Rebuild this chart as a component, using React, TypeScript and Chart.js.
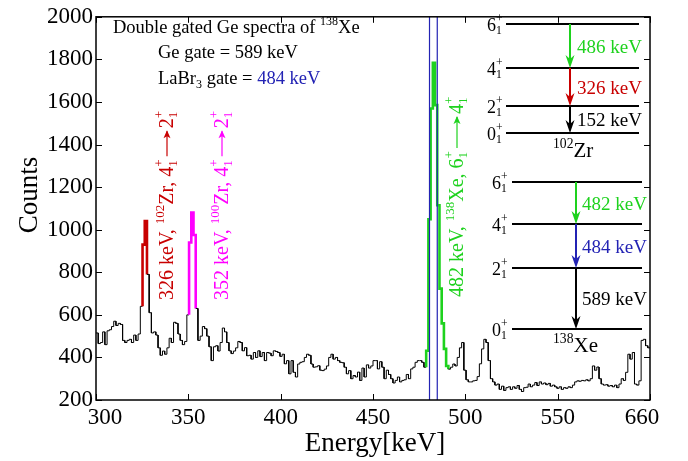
import React, { useEffect, useRef } from 'react';
import { Chart, registerables } from 'chart.js';
Chart.register(...registerables);

// ---------------- data ----------------
const binStart = 300; // keV
const binWidth = 1.2; // keV
const counts = [
  515, 465, 470, 520, 460, 525, 530, 545, 570, 550, 560, 555, 480, 470, 480, 485, 470, 505, 480, 510,
  640, 930, 1040, 790, 610,
  515, 520, 505, 445, 410, 430, 415, 445, 490, 470, 565, 560, 510, 480, 460, 475, 600,
  940, 1080, 975,
  630, 480, 500, 545, 535, 500,
  450, 385, 450, 455, 430, 470, 538, 520, 470, 431, 418, 430, 445, 475, 470, 431, 446, 408, 410, 392,
  423, 400, 431, 404, 423, 385, 423, 420, 408, 431, 428, 423, 405, 415, 370, 385, 323, 385, 330, 308,
  369, 377, 380, 400, 415, 410, 369, 354, 356, 361, 340, 338, 345, 360, 400, 415, 392, 400, 385,
  377, 375, 354, 323, 338, 300, 315, 308, 331, 292, 350, 308, 365, 350, 360, 385, 385, 346, 380, 354,
  300, 340, 320, 300, 280, 292, 308, 285, 292, 295, 320, 300, 346, 354, 377, 385, 385, 377, 354,
  431, 1049, 1569, 1784, 1585, 1115, 723, 560, 440, 360,
  345, 354, 369, 360, 400, 445, 470,
  340, 295, 285, 285, 290, 292, 310, 370, 440, 485, 470, 385, 300, 285,
  270, 275, 250, 265, 245, 258, 262, 250, 262, 255, 268, 250, 240, 258, 260, 275, 262, 270, 282, 268,
  285, 275, 280, 272, 278, 265, 270, 262, 255, 262, 250, 258,
  255, 262, 258, 270, 285, 290, 288, 292, 290, 295, 290, 300, 360, 340, 355, 300, 275, 270, 272, 265,
  268, 262, 270, 258, 275, 300, 292, 330, 415, 392, 423, 275, 270, 290, 480, 485, 455, 445,
];
const xTickValues = [300, 350, 400, 450, 500, 550, 600];
const xTickLabels = ['300', '350', '400', '450', '500', '550', '660'];
const yTickValues = [200, 400, 600, 800, 1000, 1200, 1400, 1600, 1800, 2000];
const peakLo = [325.2, 350.4, 478.8];
const peakHi = [327.6, 354.0, 490.8];
const gateLines = [480.6, 484.8];

// ---------------- styles ----------------
const SERIF = '"Liberation Serif", "Times New Roman", Times, serif';
const RED = '#c80000';
const MAGENTA = '#ff00ff';
const GREEN = '#1ed21e';
const BLUE = '#2323b4';
const peakColors = [RED, MAGENTA, GREEN];

Chart.defaults.font.family = SERIF;

function binColor(k: number): string | null {
  if (k < 0 || k >= counts.length) return null;
  const c = binStart + binWidth * (k + 0.5);
  for (let i = 0; i < peakLo.length; i++) {
    if (c > peakLo[i] && c < peakHi[i]) return peakColors[i];
  }
  return null;
}
function segColor(i: number): string | null {
  if (i % 2 === 0) return binColor(i / 2);
  const k = (i - 1) / 2;
  return binColor(k) || binColor(k + 1);
}

type Run = { t?: string; k?: 'sup' | 'sub' | 'supsub' | 'arrow'; t2?: string; len?: number; color?: string };

function font(size: number) {
  return `${size}px ${SERIF}`;
}

function drawRich(ctx: CanvasRenderingContext2D, runs: Run[], x: number, y: number, size: number, color: string, rotate: boolean) {
  ctx.save();
  ctx.translate(x, y);
  if (rotate) ctx.rotate(-Math.PI / 2);
  ctx.textAlign = 'left';
  ctx.textBaseline = 'alphabetic';
  let cx = 0;
  const small = size * 0.65;
  for (const r of runs) {
    const col = r.color || color;
    ctx.fillStyle = col;
    ctx.strokeStyle = col;
    if (r.k === 'sup') {
      ctx.font = font(small);
      ctx.fillText(r.t!, cx, -size * 0.45);
      cx += ctx.measureText(r.t!).width;
    } else if (r.k === 'sub') {
      ctx.font = font(small);
      ctx.fillText(r.t!, cx, size * 0.2);
      cx += ctx.measureText(r.t!).width;
    } else if (r.k === 'supsub') {
      ctx.font = font(small);
      ctx.fillText(r.t!, cx, -size * 0.5);
      ctx.fillText(r.t2!, cx, size * 0.22);
      cx += Math.max(ctx.measureText(r.t!).width, ctx.measureText(r.t2!).width) + 1;
    } else if (r.k === 'arrow') {
      const len = r.len || 30;
      const ay = -size * 0.3;
      ctx.lineWidth = 1.2;
      ctx.beginPath();
      ctx.moveTo(cx + 2, ay);
      ctx.lineTo(cx + len - 3, ay);
      ctx.stroke();
      ctx.beginPath();
      ctx.moveTo(cx + len - 2, ay);
      ctx.lineTo(cx + len - 10, ay - 3.5);
      ctx.lineTo(cx + len - 8, ay);
      ctx.lineTo(cx + len - 10, ay + 3.5);
      ctx.closePath();
      ctx.fill();
      cx += len;
    } else {
      ctx.font = font(size);
      ctx.fillText(r.t!, cx, 0);
      cx += ctx.measureText(r.t!).width;
    }
  }
  ctx.restore();
}

function arrowDown(ctx: CanvasRenderingContext2D, x: number, y1: number, y2: number, color: string) {
  ctx.save();
  ctx.strokeStyle = color;
  ctx.fillStyle = color;
  ctx.lineWidth = 2;
  ctx.beginPath();
  ctx.moveTo(x, y1);
  ctx.lineTo(x, y2 - 8);
  ctx.stroke();
  ctx.beginPath();
  ctx.moveTo(x, y2);
  ctx.lineTo(x - 4.5, y2 - 13);
  ctx.lineTo(x, y2 - 9);
  ctx.lineTo(x + 4.5, y2 - 13);
  ctx.closePath();
  ctx.fill();
  ctx.restore();
}

type Scheme = {
  levels: number[];
  spins: string[];
  x1: number;
  x2: number;
  labelX: number;
  arrowX: number;
  textX: number;
  trans: { e: string; color: string }[];
  nucA: string;
  nucEl: string;
  nucX: number;
  nucY: number;
};

const schemes: Scheme[] = [
  {
    levels: [24, 68, 106, 133],
    spins: ['6', '4', '2', '0'],
    x1: 506, x2: 639, labelX: 487, arrowX: 570, textX: 577,
    trans: [
      { e: '486 keV', color: GREEN },
      { e: '326 keV', color: RED },
      { e: '152 keV', color: '#000' },
    ],
    nucA: '102', nucEl: 'Zr', nucX: 553, nucY: 157,
  },
  {
    levels: [182, 224, 268, 329],
    spins: ['6', '4', '2', '0'],
    x1: 512, x2: 642, labelX: 492, arrowX: 576, textX: 582,
    trans: [
      { e: '482 keV', color: GREEN },
      { e: '484 keV', color: BLUE },
      { e: '589 keV', color: '#000' },
    ],
    nucA: '138', nucEl: 'Xe', nucX: 553, nucY: 352,
  },
];

function drawScheme(ctx: CanvasRenderingContext2D, s: Scheme) {
  ctx.save();
  ctx.strokeStyle = '#000';
  ctx.lineWidth = 2;
  s.levels.forEach((ly, i) => {
    ctx.beginPath();
    ctx.moveTo(s.x1, ly);
    ctx.lineTo(s.x2, ly);
    ctx.stroke();
    drawRich(ctx, [{ t: s.spins[i] }, { k: 'supsub', t: '+', t2: '1' }], s.labelX, ly + 6.5, 18, '#000', false);
  });
  for (let i = 0; i < s.trans.length; i++) {
    const y1 = s.levels[i];
    const y2 = s.levels[i + 1];
    arrowDown(ctx, s.arrowX, y1, y2, s.trans[i].color);
    drawRich(ctx, [{ t: s.trans[i].e }], s.textX, (y1 + y2) / 2 + 6.5, 19, s.trans[i].color, false);
  }
  drawRich(ctx, [{ k: 'sup', t: s.nucA }, { t: s.nucEl }], s.nucX, s.nucY, 21, '#000', false);
  ctx.restore();
}

const overlayPlugin = {
  id: 'overlay',
  afterDatasetsDraw(chart: any) {
    const ctx: CanvasRenderingContext2D = chart.ctx;
    const { top, bottom } = chart.chartArea;
    const xs = chart.scales.x;
    ctx.save();
    ctx.strokeStyle = BLUE;
    ctx.lineWidth = 1.2;
    for (const g of gateLines) {
      const px = xs.getPixelForValue(g);
      ctx.beginPath();
      ctx.moveTo(px, top);
      ctx.lineTo(px, bottom);
      ctx.stroke();
    }
    ctx.restore();
  },
  afterDraw(chart: any) {
    const ctx: CanvasRenderingContext2D = chart.ctx;
    const { left, right, top, bottom } = chart.chartArea;
    const xs = chart.scales.x;
    const ys = chart.scales.y;
    ctx.save();
    ctx.strokeStyle = '#000';
    ctx.lineWidth = 1.5;
    ctx.strokeRect(left, top, right - left, bottom - top);
    ctx.lineWidth = 1;
    const tl = 6;
    ctx.beginPath();
    for (const v of xTickValues) {
      const px = Math.round(xs.getPixelForValue(v)) + 0.5;
      ctx.moveTo(px, bottom);
      ctx.lineTo(px, bottom - tl);
      ctx.moveTo(px, top);
      ctx.lineTo(px, top + tl);
    }
    for (const v of yTickValues) {
      const py = Math.round(ys.getPixelForValue(v)) + 0.5;
      ctx.moveTo(left, py);
      ctx.lineTo(left + tl, py);
      ctx.moveTo(right, py);
      ctx.lineTo(right - tl, py);
    }
    ctx.stroke();

    // x tick labels (edge labels kept inside like the original)
    ctx.fillStyle = '#000';
    ctx.font = font(23);
    ctx.textAlign = 'center';
    ctx.textBaseline = 'alphabetic';
    xTickValues.forEach((v, i) => {
      let px = xs.getPixelForValue(v);
      if (i === 0) px += 9;
      if (i === xTickValues.length - 1) px -= 8;
      ctx.fillText(xTickLabels[i], px, 424);
    });

    // axis titles
    ctx.font = font(27);
    ctx.fillText('Energy[keV]', 375, 451);
    ctx.save();
    ctx.translate(37, 195);
    ctx.rotate(-Math.PI / 2);
    ctx.fillText('Counts', 0, 0);
    ctx.restore();

    // header text
    drawRich(ctx, [{ t: 'Double gated Ge spectra of ' }, { k: 'sup', t: '138' }, { t: 'Xe' }], 113, 33, 18.5, '#000', false);
    drawRich(ctx, [{ t: 'Ge gate = 589 keV' }], 158, 58, 18.5, '#000', false);
    drawRich(ctx, [{ t: 'LaBr' }, { k: 'sub', t: '3' }, { t: ' gate = ' }, { t: '484 keV', color: BLUE }], 158, 84, 18.5, '#000', false);

    // rotated peak labels
    drawRich(ctx, [
      { t: '326 keV, ' }, { k: 'sup', t: '102' }, { t: 'Zr, 4' }, { k: 'supsub', t: '+', t2: '1' },
      { k: 'arrow', len: 30 }, { t: '2' }, { k: 'supsub', t: '+', t2: '1' },
    ], 173, 300, 20, RED, true);
    drawRich(ctx, [
      { t: '352 keV, ' }, { k: 'sup', t: '100' }, { t: 'Zr, 4' }, { k: 'supsub', t: '+', t2: '1' },
      { k: 'arrow', len: 30 }, { t: '2' }, { k: 'supsub', t: '+', t2: '1' },
    ], 228, 300, 20, MAGENTA, true);
    drawRich(ctx, [
      { t: '482 keV, ' }, { k: 'sup', t: '138' }, { t: 'Xe, 6' }, { k: 'supsub', t: '+', t2: '1' },
      { k: 'arrow', len: 36 }, { t: '4' }, { k: 'supsub', t: '+', t2: '1' },
    ], 463, 297, 20, GREEN, true);

    for (const s of schemes) drawScheme(ctx, s);
    ctx.restore();
  },
};

export default function App() {
  const ref = useRef<HTMLCanvasElement>(null);
  useEffect(() => {
    if (!ref.current) return;
    const pts: { x: number; y: number }[] = [];
    counts.forEach((v, k) => {
      const x0 = binStart + k * binWidth;
      pts.push({ x: x0, y: v }, { x: x0 + binWidth, y: v });
    });
    const chart = new Chart(ref.current, {
      type: 'line',
      data: {
        datasets: [
          {
            data: pts,
            borderColor: '#000',
            borderWidth: 1,
            pointRadius: 0,
            fill: false,
            tension: 0,
            borderJoinStyle: 'miter',
            borderCapStyle: 'butt',
            segment: {
              borderColor: (c: any) => segColor(c.p0DataIndex) || '#000',
              borderWidth: (c: any) => (segColor(c.p0DataIndex) ? 2.6 : 1),
            },
          } as any,
        ],
      },
      options: {
        animation: false,
        responsive: false,
        devicePixelRatio: 1,
        layout: { padding: { left: 0, right: 38, top: 10, bottom: 0 } },
        plugins: { legend: { display: false }, tooltip: { enabled: false } },
        scales: {
          x: {
            type: 'linear',
            min: 300,
            max: 600,
            afterFit: (s: any) => { s.height = 61; },
            grid: { display: false, drawTicks: false },
            border: { display: false },
            ticks: { display: false, stepSize: 50 },
          },
          y: {
            type: 'linear',
            min: 200,
            max: 2000,
            afterFit: (s: any) => { s.width = 96; },
            grid: { display: false, drawTicks: false },
            border: { display: false },
            ticks: {
              stepSize: 200,
              padding: 3,
              color: '#000',
              font: { family: SERIF, size: 23 },
              callback: (v: any) => String(v),
            },
          },
        },
      },
      plugins: [overlayPlugin],
    } as any);
    return () => chart.destroy();
  }, []);
  return (
    <div style={{ position: 'absolute', left: 0, top: 0, width: 688, height: 461, background: '#fff' }}>
      <canvas ref={ref} width={688} height={461} style={{ display: 'block' }} />
    </div>
  );
}
